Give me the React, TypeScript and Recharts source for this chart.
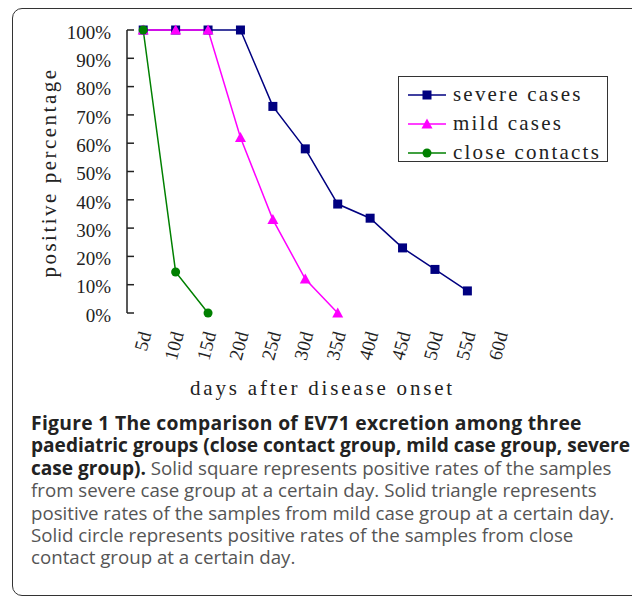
import { LineChart, Line, XAxis, YAxis, Legend } from "recharts";

// days after onset (band centres) and positive percentage per group
const DAYS = [5, 10, 15, 20, 25, 30, 35, 40, 45, 50, 55];
const SEVERE = [100, 100, 100, 100, 73, 58, 38.5, 33.5, 23, 15.4, 7.8];
const MILD = [100, 100, 100, 62, 33, 12, 0, null, null, null, null];
const CLOSE = [100, 14.5, 0, null, null, null, null, null, null, null, null];

const LABEL_TICKS = [5, 10, 15, 20, 25, 30, 35, 40, 45, 50, 55, 60];
const EDGE_TICKS = [2.5, 7.5, 12.5, 17.5, 22.5, 27.5, 32.5, 37.5, 42.5, 47.5, 52.5, 57.5, 62.5];
const Y_TICKS = [0, 10, 20, 30, 40, 50, 60, 70, 80, 90, 100];

const SERIES = [
  { key: "severe", name: "severe cases", color: "#000080", shape: "square" },
  { key: "mild", name: "mild cases", color: "#ff00ff", shape: "triangle" },
  { key: "close", name: "close contacts", color: "#008000", shape: "circle" },
];

const data = DAYS.map((day, i) => ({
  day,
  severe: SEVERE[i],
  mild: MILD[i],
  close: CLOSE[i],
}));

const SERIF = "'Liberation Serif', 'Times New Roman', serif";
const INK = "#222";

const Marker = ({ shape, color, cx, cy }: any) => {
  if (shape === "square")
    return <rect x={cx - 4.5} y={cy - 4.5} width={9} height={9} fill={color} />;
  if (shape === "triangle")
    return <polygon points={`${cx},${cy - 5.5} ${cx + 5.5},${cy + 4.5} ${cx - 5.5},${cy + 4.5}`} fill={color} />;
  return <circle cx={cx} cy={cy} r={4.5} fill={color} />;
};

const makeDot = (shape: string, color: string) => (props: any) => {
  const { cx, cy, index, value } = props;
  const k = `${shape}-${index}`;
  if (cx == null || cy == null || value == null) return <g key={k} />;
  return (
    <g key={k}>
      <Marker shape={shape} color={color} cx={cx} cy={cy} />
    </g>
  );
};

const DayTick = ({ x, y, payload }: any) => (
  <text
    x={x + 2}
    y={y}
    transform={`rotate(-75 ${x + 2} ${y})`}
    textAnchor="end"
    dominantBaseline="central"
    fontFamily={SERIF}
    fontSize={19}
    fill={INK}
  >
    {`${payload.value}d`}
  </text>
);

const renderLegend = () => (
  <div
    style={{
      border: "1.5px solid #333",
      background: "#fff",
      width: 210,
      height: 86,
      boxSizing: "border-box",
      padding: "3px 0 0 8px",
    }}
  >
    {SERIES.map((s) => (
      <div key={s.key} style={{ display: "flex", alignItems: "center", height: 29 }}>
        <svg width={44} height={14} style={{ marginRight: 2 }}>
          <line x1={1} y1={7} x2={39} y2={7} stroke={s.color} strokeWidth={1.5} />
          <Marker shape={s.shape} color={s.color} cx={20} cy={7} />
        </svg>
        <span style={{ fontFamily: SERIF, fontSize: 21, letterSpacing: 2.2, color: INK }}>{s.name}</span>
      </div>
    ))}
  </div>
);

const App = () => {
  return (
    <div
      style={{
        position: "absolute",
        left: 0,
        top: 0,
        width: 632,
        height: 604,
        overflow: "hidden",
        background: "#fff",
      }}
    >
      <div
        style={{
          position: "absolute",
          left: 12,
          top: 8,
          width: 700,
          height: 588,
          boxSizing: "border-box",
          border: "1.5px solid #333",
          borderRadius: 10,
        }}
      />
      <div style={{ position: "absolute", left: 0, top: 0 }}>
        <LineChart
          width={632}
          height={410}
          data={data}
          margin={{ top: 30, right: 116, bottom: 7, left: 0 }}
        >
          <XAxis
            xAxisId="edges"
            dataKey="day"
            type="number"
            domain={[2.5, 62.5]}
            ticks={EDGE_TICKS}
            tick={false}
            tickSize={-7}
            height={0}
            stroke={INK}
            strokeWidth={1.5}
          />
          <XAxis
            xAxisId="days"
            dataKey="day"
            type="number"
            domain={[2.5, 62.5]}
            ticks={LABEL_TICKS}
            tick={<DayTick />}
            tickLine={false}
            axisLine={false}
            tickSize={0}
            tickMargin={19}
            height={90}
            interval={0}
            label={{
              content: ({ viewBox }: any) => (
                <text
                  x={viewBox.x + viewBox.width / 2 + 1}
                  y={viewBox.y + 82}
                  textAnchor="middle"
                  fontFamily={SERIF}
                  fontSize={21}
                  letterSpacing={2.8}
                  fill={INK}
                >
                  days after disease onset
                </text>
              ),
            }}
          />
          <YAxis
            type="number"
            domain={[0, 100]}
            ticks={Y_TICKS}
            interval={0}
            width={127}
            tickSize={-7}
            tickMargin={23}
            tickFormatter={(v: number) => `${v}%`}
            tick={{ fontFamily: SERIF, fontSize: 19, fill: INK, dy: 2 }}
            stroke={INK}
            strokeWidth={1.5}
            label={{
              content: ({ viewBox }: any) => {
                const cx = viewBox.x + 48.5;
                const cy = viewBox.y + viewBox.height / 2 + 1;
                return (
                  <text
                    x={cx}
                    y={cy}
                    transform={`rotate(-90 ${cx} ${cy})`}
                    textAnchor="middle"
                    dominantBaseline="central"
                    fontFamily={SERIF}
                    fontSize={21}
                    letterSpacing={2.5}
                    fill={INK}
                  >
                    positive percentage
                  </text>
                );
              },
            }}
          />
          <Legend
            layout="vertical"
            align="center"
            verticalAlign="middle"
            content={renderLegend}
            wrapperStyle={{ position: "absolute", left: 398, top: 76, width: 213 }}
          />
          {SERIES.map((s) => (
            <Line
              key={s.key}
              xAxisId="days"
              dataKey={s.key}
              name={s.name}
              stroke={s.color}
              strokeWidth={1.5}
              dot={makeDot(s.shape, s.color)}
              activeDot={false}
              isAnimationActive={false}
            />
          ))}
        </LineChart>
      </div>
      <div
        style={{
          position: "absolute",
          left: 31,
          top: 412,
          width: 600,
          fontFamily: "'Open Sans', sans-serif",
          fontSize: 18.7,
          lineHeight: "22.4px",
          color: "#555",
          whiteSpace: "nowrap",
        }}
      >
        <b style={{ color: INK, fontSize: 19.3, letterSpacing: 0.3 }}>Figure 1 The comparison of EV71 excretion among three</b>
        <br />
        <b style={{ color: INK, fontSize: 19.1 }}>paediatric groups (close contact group, mild case group, severe</b>
        <br />
        <b style={{ color: INK, fontSize: 19.1 }}>case group).</b> Solid square represents positive rates of the samples
        <br />
        from severe case group at a certain day. Solid triangle represents
        <br />
        positive rates of the samples from mild case group at a certain day.
        <br />
        Solid circle represents positive rates of the samples from close
        <br />
        contact group at a certain day.
      </div>
    </div>
  );
};

export default App;
